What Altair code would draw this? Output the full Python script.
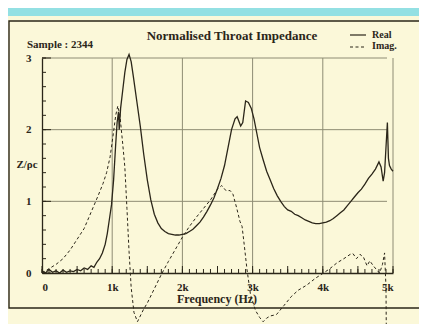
import altair as alt
import pandas as pd

# ---------------- data ----------------
real_freq = [0, 50, 100, 150, 200, 250, 300, 350, 400, 450, 500, 550, 600, 650, 700, 740, 780, 820,
             860, 900, 930, 960, 990, 1020, 1050, 1070, 1090, 1100, 1120, 1150, 1180, 1210, 1240,
             1270, 1300, 1350, 1400, 1450, 1500, 1550, 1600, 1650, 1700, 1750, 1800, 1850, 1900,
             1950, 2000, 2050, 2100, 2150, 2200, 2250, 2300, 2350, 2400, 2450, 2500, 2550, 2600,
             2650, 2700, 2750, 2780, 2830, 2860, 2900, 2940, 2980, 3020, 3060, 3100, 3150, 3200,
             3250, 3300, 3350, 3400, 3450, 3500, 3550, 3600, 3650, 3700, 3750, 3800, 3850, 3900,
             3950, 4000, 4050, 4100, 4150, 4200, 4250, 4300, 4350, 4400, 4450, 4500, 4550, 4600,
             4650, 4700, 4750, 4800, 4830, 4860, 4880, 4900, 4920, 4935, 4950, 4975, 5000]
real_val = [0.03, 0.0, 0.05, 0.01, 0.03, 0.0, 0.04, 0.01, 0.03, 0.02, 0.05, 0.03, 0.07, 0.05, 0.10,
            0.08, 0.15, 0.20, 0.28, 0.40, 0.55, 0.75, 0.95, 1.30, 1.80, 2.10, 2.25, 2.00, 2.30, 2.55,
            2.80, 2.98, 3.05, 2.95, 2.75, 2.40, 2.05, 1.65, 1.30, 1.02, 0.82, 0.70, 0.62, 0.58, 0.55,
            0.54, 0.53, 0.53, 0.54, 0.55, 0.58, 0.61, 0.66, 0.71, 0.78, 0.86, 0.95, 1.05, 1.18, 1.32,
            1.50, 1.75, 2.00, 2.15, 2.18, 2.05, 2.10, 2.40, 2.38, 2.30, 2.15, 1.95, 1.75, 1.58, 1.42,
            1.30, 1.18, 1.08, 1.00, 0.93, 0.88, 0.86, 0.82, 0.80, 0.77, 0.74, 0.72, 0.70, 0.69, 0.69,
            0.70, 0.71, 0.73, 0.76, 0.80, 0.84, 0.88, 0.94, 1.00, 1.06, 1.12, 1.17, 1.24, 1.32, 1.38,
            1.45, 1.55, 1.48, 1.28, 1.40, 1.75, 2.10, 1.60, 1.50, 1.45, 1.42]

imag_freq = [0, 100, 200, 300, 400, 500, 600, 700, 800, 870, 920, 970, 1010, 1050, 1080, 1110, 1150,
             1180, 1210, 1240, 1270, 1310, 1360, 1400, 1450, 1500, 1600, 1700, 1800, 1900, 2000,
             2100, 2200, 2300, 2400, 2500, 2560, 2620, 2680, 2720, 2770, 2820, 2850, 2880, 2920,
             2970, 3040, 3100, 3150, 3200, 3250, 3340, 3450, 3550, 3650, 3770, 3900, 4010, 4100,
             4200, 4300, 4390, 4430, 4480, 4530, 4580, 4630, 4670, 4720, 4780, 4810, 4850, 4880,
             4900, 4910]
imag_val = [0.0, 0.06, 0.12, 0.20, 0.32, 0.47, 0.62, 0.85, 1.08, 1.25, 1.40, 1.62, 1.90, 2.20, 2.33,
            2.20, 1.80, 1.48, 0.90, 0.30, -0.20, -0.55, -0.68, -0.60, -0.50, -0.42, -0.22, -0.02,
            0.16, 0.33, 0.50, 0.65, 0.78, 0.90, 1.02, 1.17, 1.22, 1.15, 1.15, 1.10, 0.92, 0.72, 0.65,
            0.40, 0.05, -0.30, -0.52, -0.62, -0.68, -0.63, -0.60, -0.58, -0.45, -0.33, -0.24, -0.17,
            -0.07, 0.0, 0.06, 0.14, 0.20, 0.26, 0.27, 0.20, 0.26, 0.22, 0.10, 0.17, 0.10, 0.03, 0.0,
            0.12, 0.28, -0.20, -1.50]

x_ticks = [0, 1000, 2000, 3000, 4000, 5000]
x_tick_labels = ["0", "1k", "2k", "3k", "4k", "5k"]
y_ticks = [0, 1, 2, 3]
y_tick_labels = ["0", "1", "2", "3"]
h_grid = [1, 2, 3]
v_grid = [1000, 2000, 3000, 4000, 5000]

title_text = "Normalised Throat Impedance"
sample_text = "Sample : 2344"
x_title = "Frequency (Hz)"
y_title = "Z/ρc"
legend_names = ["Real", "Imag."]

# ---------------- styles ----------------
INK = "#2b2619"
GRID = "#8e8c74"
CREAM = "#fbf8d9"
CYAN = "#93e0e3"
FONT = "Liberation Serif"

xs = alt.Scale(domain=[0, 5000], nice=False, zero=False)
ys = alt.Scale(domain=[0, 3], nice=False, zero=False)

def expr(vals, labels):
    s = "''"
    for v, l in reversed(list(zip(vals, labels))):
        s = f"datum.value == {v} ? '{l}' : ({s})"
    return s

real_df = pd.DataFrame({"f": real_freq, "v": real_val})
imag_df = pd.DataFrame({"f": imag_freq, "v": imag_val})
one = pd.DataFrame({"a": [0]})

# decorations: cyan strip and frame
cyan = alt.Chart(one).mark_rect(color=CYAN).encode(
    x=alt.value(-34), x2=alt.value(377), y=alt.value(-50), y2=alt.value(-42))
frame = alt.Chart(one).mark_rect(fill=None, stroke=INK, strokeWidth=1.4).encode(
    x=alt.value(-33), x2=alt.value(390), y=alt.value(-37), y2=alt.value(250))

# grid
hg = alt.Chart(pd.DataFrame({"y": h_grid})).mark_rule(color=GRID, strokeWidth=1).encode(
    y=alt.Y("y:Q", scale=ys), x=alt.value(0), x2=alt.value(345))
vg = alt.Chart(pd.DataFrame({"x": v_grid})).mark_rule(color=GRID, strokeWidth=1).encode(
    x=alt.X("x:Q", scale=xs), y=alt.value(0), y2=alt.value(215))

# inward ticks
y_minor = [round(i * 0.2, 1) for i in range(16)]
ytk = alt.Chart(pd.DataFrame({"y": y_minor})).mark_rule(color=INK, strokeWidth=1).encode(
    y=alt.Y("y:Q", scale=ys), x=alt.value(0), x2=alt.value(4))
ytk_major = alt.Chart(pd.DataFrame({"y": y_ticks})).mark_rule(color=INK, strokeWidth=1).encode(
    y=alt.Y("y:Q", scale=ys), x=alt.value(0), x2=alt.value(9))
x_minor = list(range(0, 5001, 100))
xtk = alt.Chart(pd.DataFrame({"x": x_minor})).mark_rule(color=INK, strokeWidth=1).encode(
    x=alt.X("x:Q", scale=xs), y=alt.value(215), y2=alt.value(211))
x_mid = list(range(0, 5001, 500))
xtk_mid = alt.Chart(pd.DataFrame({"x": x_mid})).mark_rule(color=INK, strokeWidth=1).encode(
    x=alt.X("x:Q", scale=xs), y=alt.value(215), y2=alt.value(208))

# curves with axes
real = alt.Chart(real_df).mark_line(color=INK, strokeWidth=1.3, clip=False).encode(
    x=alt.X("f:Q", scale=xs, axis=alt.Axis(
        values=x_ticks, labelExpr=expr(x_ticks, x_tick_labels), ticks=False, grid=False,
        domainColor=INK, domainWidth=1.3, labelFont=FONT, labelFontSize=11,
        labelFontWeight="bold", labelColor=INK, labelPadding=8, title=None)),
    y=alt.Y("v:Q", scale=ys, axis=alt.Axis(
        values=y_ticks, labelExpr=expr(y_ticks, y_tick_labels), ticks=False, grid=False,
        domainColor=INK, domainWidth=1.3, labelFont=FONT, labelFontSize=11,
        labelFontWeight="bold", labelColor=INK, labelPadding=11, title=None)),
)
imag = alt.Chart(imag_df).mark_line(color=INK, strokeWidth=1, strokeDash=[3, 2.5], clip=False).encode(
    x=alt.X("f:Q", scale=xs), y=alt.Y("v:Q", scale=ys))

def txt(s, x, y, size=11, align="left", style="normal"):
    return alt.Chart(one).mark_text(
        text=s, font=FONT, fontSize=size, fontWeight="bold", fontStyle=style, color=INK,
        align=align, baseline="middle").encode(x=alt.value(x), y=alt.value(y))

title = txt(title_text, 190, -22, size=13, align="center")
sample = txt(sample_text, -15, -13, size=11)
xt = txt(x_title, 175, 241, size=12, align="center")
yt = txt(y_title, -15, 107, size=11, align="center")
leg_real = txt(legend_names[0], 330, -23, size=10)
leg_imag = txt(legend_names[1], 330, -12, size=10)
leg_line1 = alt.Chart(one).mark_rule(color=INK, strokeWidth=1.2).encode(
    x=alt.value(308), x2=alt.value(324), y=alt.value(-23))
leg_line2 = alt.Chart(one).mark_rule(color=INK, strokeWidth=1, strokeDash=[3, 2.5]).encode(
    x=alt.value(308), x2=alt.value(324), y=alt.value(-11))

chart = alt.layer(
    cyan, frame, hg, vg, ytk, ytk_major, xtk, xtk_mid, real, imag,
    title, sample, xt, yt, leg_real, leg_imag, leg_line1, leg_line2,
).properties(
    width=351, height=215,
    autosize=alt.AutoSizeParams(type="none"),
    padding={"left": 34, "top": 50, "right": 26, "bottom": 51},
    background=CREAM,
).configure_view(stroke=None)

chart.save("out.html", embed_options={"renderer": "svg", "actions": False})
